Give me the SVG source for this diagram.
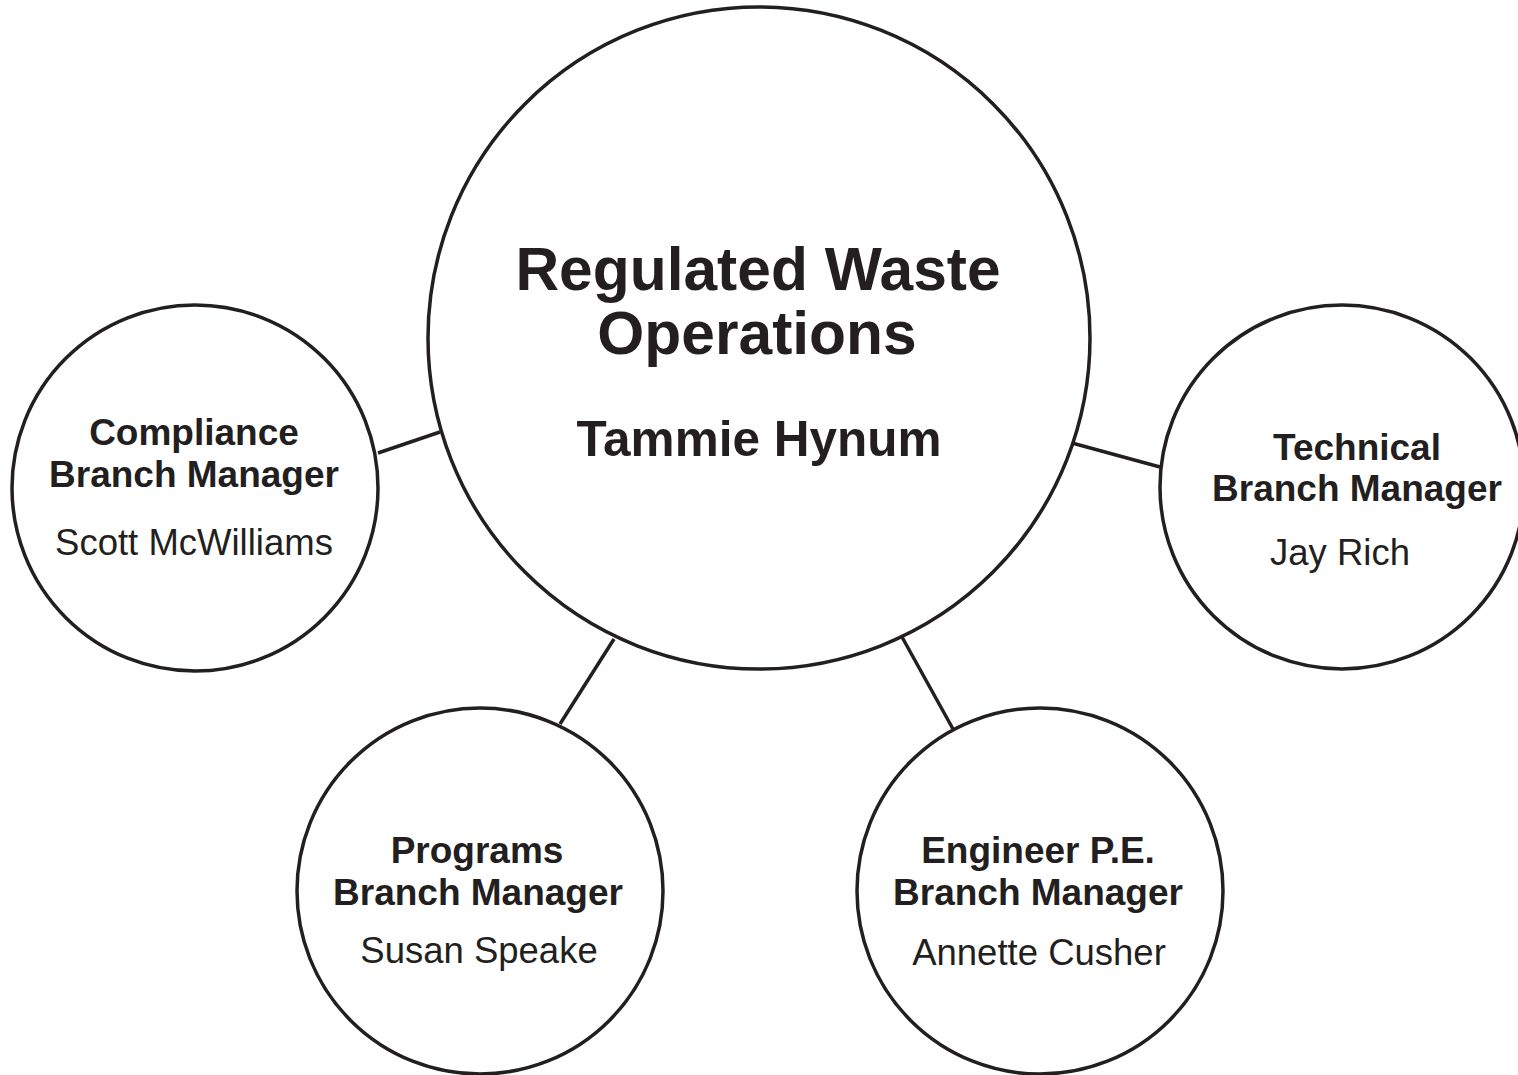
<svg xmlns="http://www.w3.org/2000/svg" width="1518" height="1075" viewBox="0 0 1518 1075">
<style>
.node{fill:#fff;stroke:#231f20;stroke-width:3.5}
.conn line{stroke:#231f20;stroke-width:3.5}
text{font-family:"Liberation Sans",Arial,sans-serif;fill:#231f20;text-anchor:middle}
.t{font-weight:bold;font-size:37px}
.n{font-size:36.5px}
.big{font-weight:bold;font-size:60.5px}
.boss{font-weight:bold;font-size:49.5px}
</style>
<rect width="1518" height="1075" fill="#fff"/>
<g id="connectors" class="conn">
<line x1="378" y1="453" x2="440" y2="432"/>
<line x1="1072" y1="443" x2="1160" y2="467"/>
<line x1="560" y1="724" x2="614" y2="639"/>
<line x1="902" y1="637" x2="953" y2="729"/>
</g>
<g id="central">
<circle class="node" cx="759" cy="338" r="331"/>
<text class="big" x="758" y="290">Regulated Waste</text>
<text class="big" x="757" y="354">Operations</text>
<text class="boss" x="759" y="456">Tammie Hynum</text>
</g>
<g id="compliance">
<circle class="node" cx="195" cy="488" r="183"/>
<text class="t" x="194" y="445">Compliance</text>
<text class="t" x="194" y="487">Branch Manager</text>
<text class="n" x="194" y="555">Scott McWilliams</text>
</g>
<g id="technical">
<circle class="node" cx="1342" cy="487" r="182"/>
<text class="t" x="1357" y="460">Technical</text>
<text class="t" x="1357" y="501">Branch Manager</text>
<text class="n" x="1340" y="565">Jay Rich</text>
</g>
<g id="programs">
<circle class="node" cx="480" cy="891" r="183"/>
<text class="t" x="477" y="863">Programs</text>
<text class="t" x="478" y="905">Branch Manager</text>
<text class="n" x="479" y="963">Susan Speake</text>
</g>
<g id="engineer">
<circle class="node" cx="1040" cy="891" r="183"/>
<text class="t" x="1038" y="863">Engineer P.E.</text>
<text class="t" x="1038" y="905">Branch Manager</text>
<text class="n" x="1039" y="965">Annette Cusher</text>
</g>
</svg>
